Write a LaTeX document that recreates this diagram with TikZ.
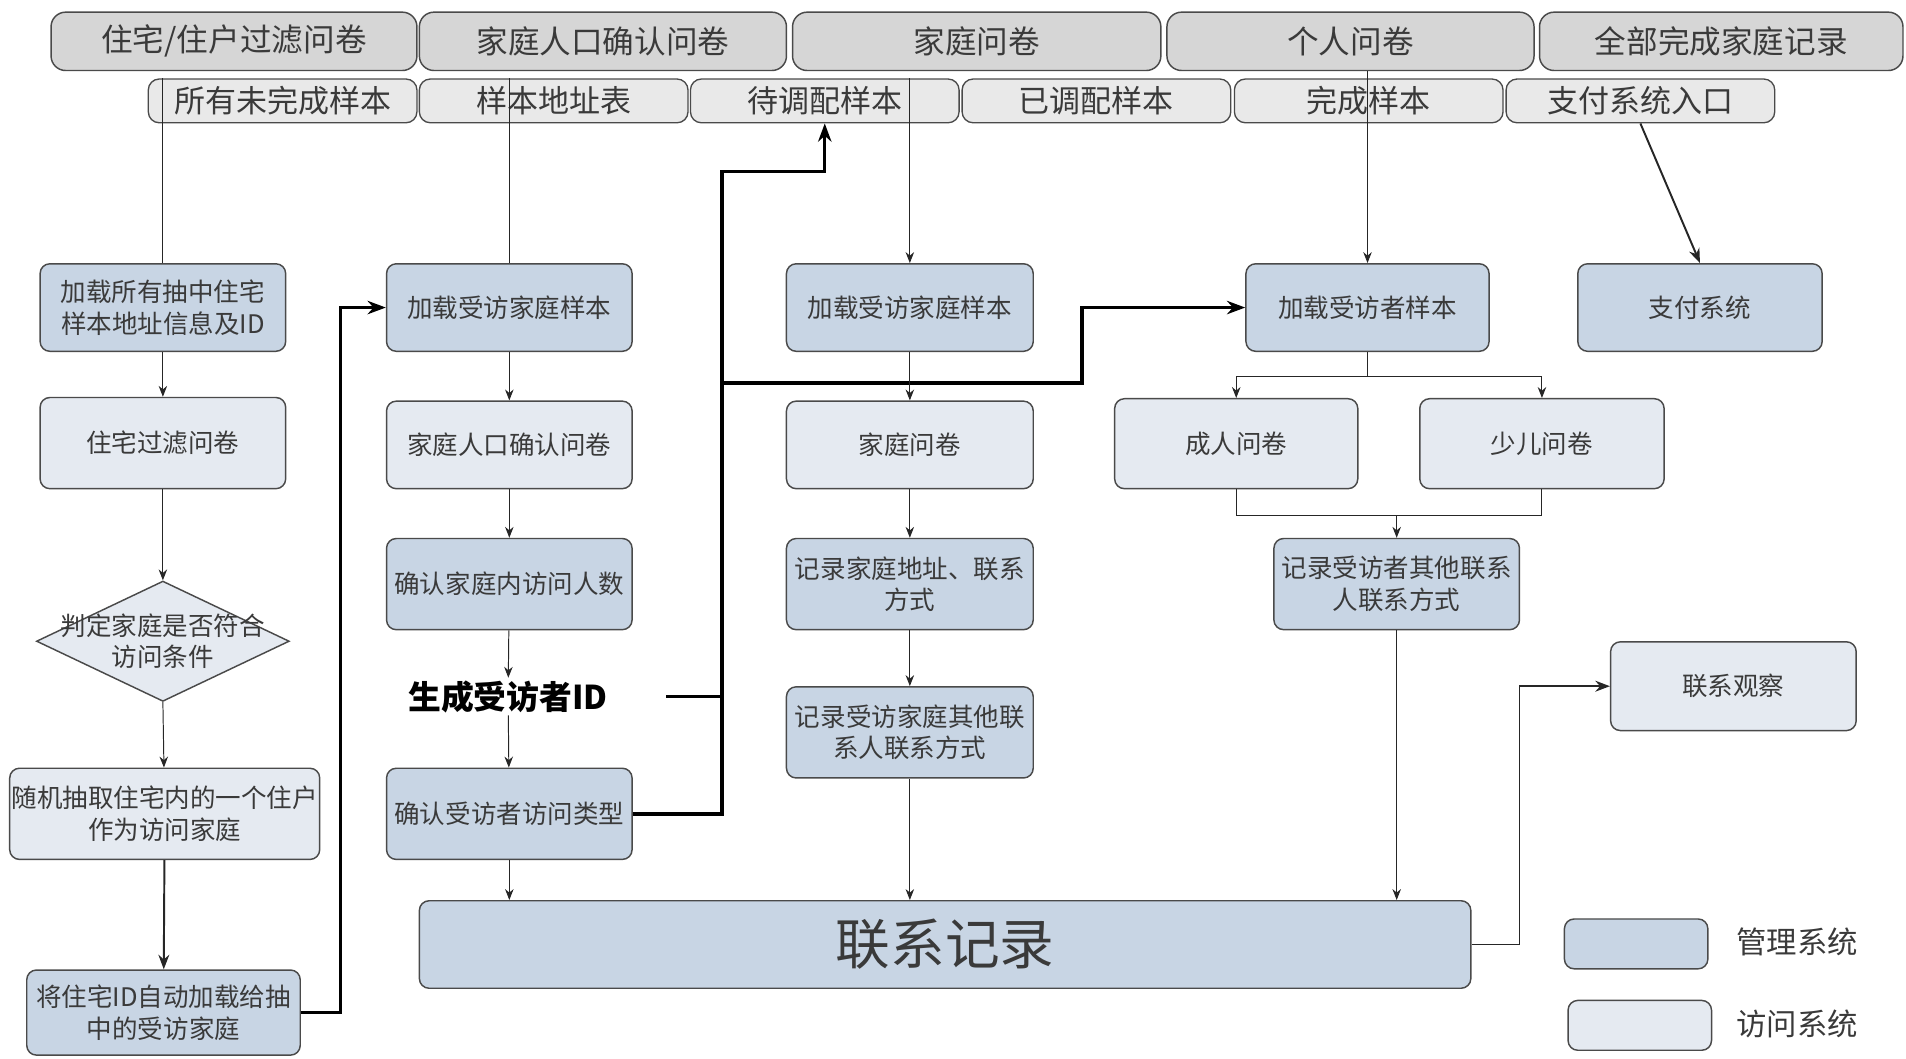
\documentclass[tikz,border=0pt]{standalone}
\usepackage{fontspec}
\setmainfont{Noto Sans CJK SC}
\usetikzlibrary{shapes.geometric,arrows.meta}
\definecolor{mgmt}{HTML}{C8D5E4}
\definecolor{visit}{HTML}{E5EAF1}
\definecolor{hdr}{HTML}{D6D6D6}
\definecolor{subc}{HTML}{E9E9E9}
\definecolor{edgec}{HTML}{4A4A4A}
\definecolor{txt}{HTML}{3A3A3A}
\begin{document}
\begin{tikzpicture}[x=1pt,y=-1pt,
  base/.style={draw=edgec, line width=1.2pt, rounded corners=8pt, inner sep=0pt, align=center, text=txt, font=\fontsize{21}{26}\selectfont},
  mbox/.style={base, fill=mgmt},
  vbox/.style={base, fill=visit},
  hbox/.style={draw=edgec, line width=1.2pt, rounded corners=12pt, fill=hdr, inner sep=0pt, minimum height=48pt, text=txt, font=\fontsize{26}{30}\selectfont},
  sbox/.style={draw=edgec, line width=1.1pt, rounded corners=9pt, fill=subc, inner sep=0pt, minimum height=36pt, minimum width=221pt, text=txt, font=\fontsize{25.5}{28}\selectfont},
  fine/.style={line width=0.8pt, draw=black!85},
  arr/.style={fine, -{Stealth[length=9pt,width=7pt]}},
  heavy/.style={line width=2.8pt, draw=black},
  tarr/.style={heavy, -{Stealth[length=15pt,width=11pt]}},
  marr/.style={line width=1.6pt, draw=black!85, -{Stealth[length=12pt,width=9pt]}},
]
\useasboundingbox (0,0) rectangle (1568,871);

% header row
\node[hbox, minimum width=301pt] (h1) at (192.5,34) {住宅/住户过滤问卷};
\node[hbox, minimum width=302pt] (h2) at (496,34) {家庭人口确认问卷};
\node[hbox, minimum width=303pt] (h3) at (803.5,34) {家庭问卷};
\node[hbox, minimum width=302pt] (h4) at (1111,34) {个人问卷};
\node[hbox, minimum width=299pt] (h5) at (1416,34) {全部完成家庭记录};

% second row
\node[sbox] (s1) at (232.5,83) {所有未完成样本};
\node[sbox] (s2) at (455.5,83) {样本地址表};
\node[sbox] (s3) at (678.5,83) {待调配样本};
\node[sbox] (s4) at (902,83) {已调配样本};
\node[sbox] (s5) at (1126,83) {完成样本};
\node[sbox] (s6) at (1349.5,83) {支付系统入口};

% left column
\node[mbox, minimum width=202pt, minimum height=72pt] (a1) at (134,253) {加载所有抽中住宅\\样本地址信息及ID};
\node[vbox, minimum width=202pt, minimum height=75pt] (a2) at (134,364.5) {住宅过滤问卷};
\node[diamond, draw=edgec, line width=1.2pt, fill=visit, inner sep=0pt, minimum width=208pt, minimum height=99pt,
  label={[align=center, text=txt, font=\fontsize{21}{26}\selectfont]center:判定家庭是否符合\\访问条件}] (a3) at (134,527.5) {};
\node[vbox, minimum width=255pt, minimum height=75pt] (a4) at (135.5,669.5) {随机抽取住宅内的一个住户\\作为访问家庭};
\node[mbox, minimum width=225pt, minimum height=70pt] (a5) at (134.5,833) {将住宅ID自动加载给抽\\中的受访家庭};

% second column
\node[mbox, minimum width=202pt, minimum height=72pt] (b1) at (419,253) {加载受访家庭样本};
\node[vbox, minimum width=202pt, minimum height=72pt] (b2) at (419,366) {家庭人口确认问卷};
\node[mbox, minimum width=202pt, minimum height=75pt] (b3) at (419,480.5) {确认家庭内访问人数};
\node[font=\bfseries\fontsize{27}{32}\selectfont, text=black, inner sep=2pt] (gen) at (418,573) {生成受访者ID};
\node[mbox, minimum width=202pt, minimum height=75pt] (b4) at (419,669.5) {确认受访者访问类型};

% third column
\node[mbox, minimum width=203pt, minimum height=72pt] (c1) at (748.5,253) {加载受访家庭样本};
\node[vbox, minimum width=203pt, minimum height=72pt] (c2) at (748.5,366) {家庭问卷};
\node[mbox, minimum width=203pt, minimum height=75pt] (c3) at (748.5,480.5) {记录家庭地址、联系\\方式};
\node[mbox, minimum width=203pt, minimum height=75pt] (c4) at (748.5,602.5) {记录受访家庭其他联\\系人联系方式};

% fourth column
\node[mbox, minimum width=200pt, minimum height=72pt] (d1) at (1125,253) {加载受访者样本};
\node[vbox, minimum width=200pt, minimum height=74pt] (d2) at (1017,365) {成人问卷};
\node[vbox, minimum width=201pt, minimum height=74pt] (d3) at (1268.5,365) {少儿问卷};
\node[mbox, minimum width=202pt, minimum height=75pt] (d4) at (1149,480.5) {记录受访者其他联系\\人联系方式};

% right column
\node[mbox, minimum width=201pt, minimum height=72pt] (e1) at (1398.5,253) {支付系统};
\node[vbox, minimum width=202pt, minimum height=73pt] (e2) at (1426,564.5) {联系观察};

% contact record
\node[mbox, minimum width=865pt, minimum height=72pt, font=\fontsize{45}{50}\selectfont] (rec) at (777.5,777) {联系记录};

% legend
\node[mbox, minimum width=118pt, minimum height=41pt] (L1) at (1346,776.5) {};
\node[vbox, minimum width=118pt, minimum height=41pt] (L2) at (1349,843.5) {};
\node[text=txt, font=\fontsize{25}{28}\selectfont, anchor=west] (L1t) at (1425,775) {管理系统};
\node[text=txt, font=\fontsize{25}{28}\selectfont, anchor=west] (L2t) at (1425,842) {访问系统};

% coordinates
\coordinate (genout) at (548,573);
\coordinate (jA) at (594,668);
\coordinate (jB) at (594,315);
\coordinate (jG) at (594,573);
\coordinate (jT) at (594,141);
\coordinate (split) at (1125,310);
\coordinate (merge) at (1149,424);

% lines from the sample rows
\draw[fine] (s1.north -| a1.north) -- (a1.north);
\draw[fine] (s2.north -| b1.north) -- (b1.north);
\draw[arr] (s3.north -| c1.north) -- (c1.north);
\draw[arr] (h4.south -| d1.north) -- (d1.north);
\draw[marr] (s6.south) -- (e1.north);

% left column flow
\draw[arr] (a1) -- (a2);
\draw[arr] (a2) -- (a3.north);
\draw[arr] (a3.south) -- (a4);
\draw[marr] (a4) -- (a5);
\draw[tarr] (a5.east) -- (280,833) |- (b1.west);

% second column flow
\draw[arr] (b1) -- (b2);
\draw[arr] (b2) -- (b3);
\draw[arr] (b3) -- (gen);
\draw[arr] (gen) -- (b4);
\draw[arr] (b4.south) -- (b4.south |- rec.north);
\draw[tarr] (b4.east) -- (b4.east -| jA) -- (jT) -| (s3.south);
\draw[tarr] (jB) -- (890,315) |- (d1.west);
\draw[heavy] (genout) -- (jG);

% third column flow
\draw[arr] (c1) -- (c2);
\draw[arr] (c2) -- (c3);
\draw[arr] (c3) -- (c4);
\draw[arr] (c4.south) -- (c4.south |- rec.north);

% fourth column flow
\draw[fine] (d1.south) -- (split);
\draw[arr] (split) -| (d2.north);
\draw[arr] (split) -| (d3.north);
\draw[fine] (d2.south) |- (merge);
\draw[fine] (d3.south) |- (merge);
\draw[arr] (merge) -- (d4.north);
\draw[arr] (d4.south) -- (d4.south |- rec.north);

% contact record to observation
\draw[marr] (rec.east) -- (1250,777) |- (e2.west);
\end{tikzpicture}
\end{document}
